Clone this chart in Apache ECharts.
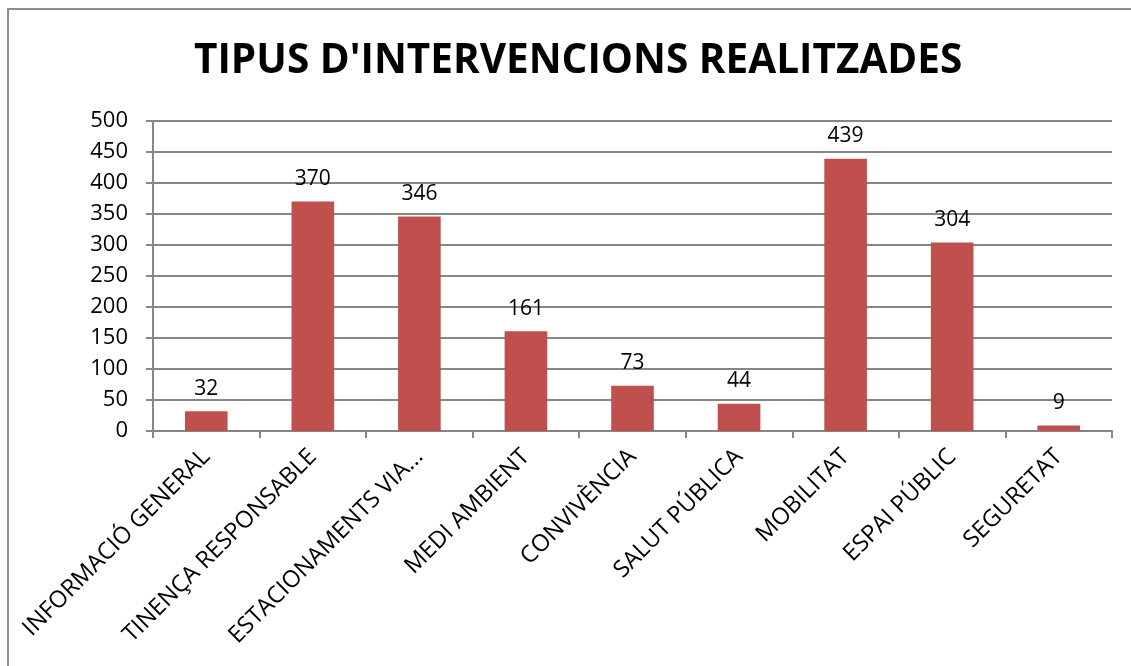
<!DOCTYPE html>
<html>
<head>
<meta charset="utf-8">
<script src="https://cdn.jsdelivr.net/npm/echarts@6/dist/echarts.min.js"></script>
<style>
  html, body { margin: 0; padding: 0; background: #fff; overflow: hidden; }
  #chart { width: 1131px; height: 666px; }
  .frame { position: absolute; left: 7px; top: 8px; width: 1140px; height: 700px; border: 2px solid #8c8c8c; box-sizing: border-box; pointer-events: none; }
</style>
</head>
<body>
<div id="chart"></div>
<div class="frame"></div>
<script>
const categories = [
  "INFORMACIÓ GENERAL",
  "TINENÇA RESPONSABLE",
  "ESTACIONAMENTS VIA...",
  "MEDI AMBIENT",
  "CONVIVÈNCIA",
  "SALUT PÚBLICA",
  "MOBILITAT",
  "ESPAI PÚBLIC",
  "SEGURETAT"
];
const values = [32, 370, 346, 161, 73, 44, 439, 304, 9];
const yTicks = [0, 50, 100, 150, 200, 250, 300, 350, 400, 450, 500];

const font = "'Open Sans', sans-serif";
const chart = echarts.init(document.getElementById("chart"));
chart.setOption({
  animation: false,
  title: {
    text: "TIPUS D'INTERVENCIONS REALITZADES",
    left: 189,
    top: 36,
    textStyle: { fontFamily: font, fontWeight: "bold", fontSize: 40.5, color: "#000" }
  },
  grid: { left: 153, right: 19, top: 121, bottom: 235, containLabel: false },
  xAxis: {
    type: "category",
    data: categories,
    axisLine: { lineStyle: { color: "#868686", width: 2 } },
    axisTick: { show: true, length: 7, lineStyle: { color: "#868686", width: 2 } },
    axisLabel: { rotate: 45, interval: 0, margin: 22, fontFamily: font, fontSize: 23.5, color: "#000" }
  },
  yAxis: {
    type: "value",
    min: yTicks[0],
    max: yTicks[yTicks.length - 1],
    interval: 50,
    axisLine: { show: true, lineStyle: { color: "#868686", width: 2 } },
    axisTick: { show: true, length: 7, lineStyle: { color: "#868686", width: 2 } },
    splitLine: { lineStyle: { color: "#868686", width: 2 } },
    axisLabel: { margin: 25, fontFamily: font, fontSize: 22, color: "#000" }
  },
  series: [{
    type: "bar",
    data: values,
    barWidth: "40%",
    itemStyle: { color: "#C0504D" },
    label: { show: true, position: "top", distance: 12, fontFamily: font, fontSize: 21, color: "#000" }
  }]
});
</script>
</body>
</html>
